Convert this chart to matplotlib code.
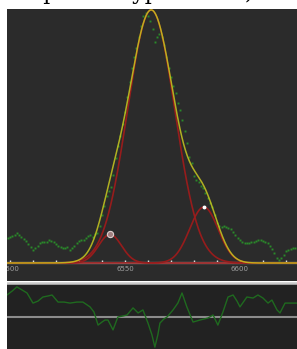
import numpy as np
import matplotlib
matplotlib.use("Agg")
import matplotlib.pyplot as plt
from matplotlib.ticker import MultipleLocator, FixedLocator
from matplotlib.patches import Rectangle

# ---- data ----
# spectrum sampled every 1 Angstrom from 6499 to 6624
wl_start, wl_step = 6499, 1
flux = [0.099, 0.103, 0.107, 0.111, 0.119, 0.111, 0.103, 0.095, 0.087, 0.075,
        0.063, 0.051, 0.059, 0.067, 0.079, 0.083, 0.083, 0.083, 0.091, 0.087,
        0.083, 0.075, 0.067, 0.063, 0.059, 0.059, 0.063, 0.051, 0.059, 0.067,
        0.079, 0.087, 0.091, 0.091, 0.099, 0.107, 0.111, 0.103, 0.115, 0.118,
        0.148, 0.188, 0.227, 0.264, 0.283, 0.300, 0.347, 0.415, 0.463, 0.502,
        0.548, 0.597, 0.656, 0.714, 0.770, 0.813, 0.851, 0.892, 0.937, 0.975,
        0.990, 0.975, 0.955, 0.925, 0.874, 0.893, 0.905, 0.895, 0.862, 0.815,
        0.770, 0.735, 0.700, 0.670, 0.632, 0.603, 0.565, 0.520, 0.474, 0.420,
        0.395, 0.345, 0.330, 0.319, 0.305, 0.295, 0.275, 0.257, 0.238, 0.220,
        0.190, 0.160, 0.146, 0.142, 0.146, 0.142, 0.140, 0.134, 0.123, 0.111,
        0.099, 0.091, 0.083, 0.079, 0.079, 0.079, 0.083, 0.083, 0.087, 0.091,
        0.091, 0.087, 0.083, 0.079, 0.067, 0.055, 0.040, 0.020, 0.012, 0.020,
        0.032, 0.047, 0.051, 0.055, 0.059, 0.059]

resid_wl = [6498.7, 6501.0, 6503.0, 6505.2, 6507.4, 6510.0, 6512.2, 6514.3, 6516.5, 6518.3,
            6520.9, 6523.5, 6526.1, 6529.1, 6531.7, 6534.8, 6536.5, 6538.3, 6540.0, 6541.3,
            6542.6, 6544.8, 6546.9, 6549.1, 6550.9, 6553.5, 6555.7, 6557.8, 6560.0, 6561.7,
            6563.0, 6564.3, 6565.2, 6566.9, 6568.3, 6570.9, 6573.0, 6574.8, 6576.9, 6579.6,
            6582.6, 6586.1, 6588.3, 6590.4, 6592.6, 6594.8, 6597.0, 6598.7, 6600.0, 6603.0,
            6605.7, 6607.8, 6610.0, 6612.2, 6613.9, 6616.1, 6617.4, 6619.6, 6622.6, 6624.8]
resid = [0.087, 0.103, 0.119, 0.107, 0.095, 0.055, 0.063, 0.079, 0.083, 0.087,
         0.059, 0.059, 0.055, 0.059, 0.059, 0.040, 0.020, -0.032, -0.020, -0.012,
         -0.012, -0.051, 0.000, 0.004, 0.008, 0.036, 0.016, 0.028, -0.024, -0.070,
         -0.119, -0.070, -0.024, -0.008, 0.000, 0.028, 0.055, 0.095, 0.040, -0.020,
         -0.012, -0.004, 0.008, -0.032, 0.020, 0.079, 0.087, 0.063, 0.040, 0.079,
         0.075, 0.087, 0.075, 0.055, 0.067, 0.028, 0.016, 0.055, 0.055, 0.055]

# fitted components: centre, amplitude, sigma
comp_center = [6561.4, 6543.5, 6584.3]
comp_amp = [1.0, 0.113, 0.221]
comp_sigma = [10.27, 5.0, 6.2]

tick_values = [6500, 6550, 6600]
tick_labels = ["6500", "6550", "6600"]

wavelength = wl_start + wl_step * np.arange(len(flux))

# ---- figure ----
W, H = 297, 349
fig = plt.figure(figsize=(W / 100, H / 100), dpi=100, facecolor="white")

def px_axes(x0, y0, x1, y1):
    return fig.add_axes([x0 / W, 1 - y1 / H, (x1 - x0) / W, (y1 - y0) / H])

# cut-off caption at the top
fig.text(0.5, 1 + 1 / H, "quatre hypothèses).", ha="center", va="baseline",
         fontsize=16, color="black", family="DejaVu Serif")

ax = px_axes(7, 9, 297, 281)
ax.set_facecolor("#2b2b2b")
xlim = (6498.7, 6624.8)
ax.set_xlim(*xlim)
ax.set_ylim(-18 / 253, 254 / 253)

xs = np.linspace(xlim[0], xlim[1], 800)
comps = [a * np.exp(-0.5 * ((xs - c) / s) ** 2) for c, a, s in zip(comp_center, comp_amp, comp_sigma)]
total = np.sum(comps, axis=0)

ax.plot(wavelength, flux, linestyle="none", marker="s", ms=1.4, mew=0,
        color="#2a8a2a", zorder=2)
for cm in comps:
    ax.plot(xs, cm, color="#961c1c", lw=1.2, zorder=3)
ax.plot(xs, total, color="#c8c820", lw=1.1, alpha=0.85, zorder=4)

ax.plot([comp_center[1]], [comp_amp[1]], "o", ms=4.5, mfc="#a08080", mec="#e0d0d0", mew=0.8, zorder=5)
ax.plot([comp_center[2]], [comp_amp[2]], "o", ms=1.8, mfc="white", mec="white", zorder=5)

for sp in ["top", "left", "right"]:
    ax.spines[sp].set_visible(False)
ax.spines["bottom"].set_position(("data", 0))
ax.spines["bottom"].set_color("#b4b4b4")
ax.spines["bottom"].set_linewidth(1.6)
ax.set_yticks([])
ax.xaxis.set_major_locator(FixedLocator(tick_values))
ax.set_xticklabels(tick_labels)
ax.xaxis.set_minor_locator(MultipleLocator(10))
ax.tick_params(axis="x", which="both", direction="in", length=2.5, width=1, color="#e0e0e0",
               labelsize=5, labelcolor="#a0a0a0", pad=2.5)

# separator
fig.add_artist(plt.Line2D([7 / W, 1], [1 - 282.5 / H] * 2, color="#c8c8c8", lw=1.8))

ax2 = px_axes(7, 284, 297, 349)
ax2.set_facecolor("#222222")
ax2.set_xlim(*xlim)
ax2.set_ylim(-32 / 253, 33 / 253)
ax2.axhline(0, color="#8c8c8c", lw=1.5)
ax2.plot(resid_wl, resid, color="#1f6a1f", lw=1.0)
for sp in ax2.spines.values():
    sp.set_visible(False)
ax2.set_xticks([])
ax2.set_yticks([])

# white page margin on the left (clips the first tick label like the panel edge does)
fig.add_artist(Rectangle((0, 0), 7 / W, 1 - 9 / H, transform=fig.transFigure,
                         facecolor="white", edgecolor="none", zorder=10))

fig.savefig("out.png", dpi=100, facecolor="white")
